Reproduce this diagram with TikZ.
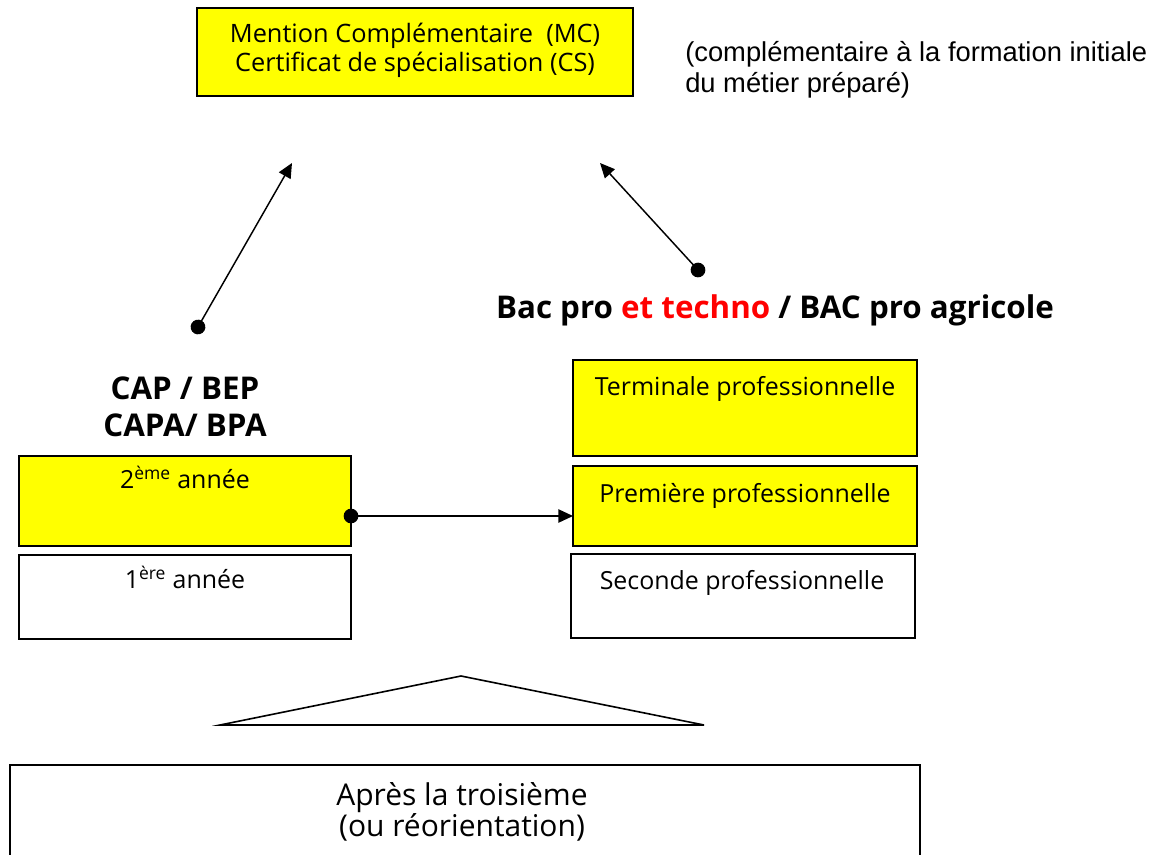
\documentclass[tikz,border=0pt]{standalone}
\usepackage{fontspec}
\setmainfont{Open Sans}
\newfontfamily\arialfont{Liberation Sans}
\usetikzlibrary{arrows.meta,fit,calc}
\definecolor{boxyellow}{RGB}{255,255,0}
\definecolor{redtxt}{RGB}{255,0,0}
\tikzset{
  box/.style={draw=black, line width=1.4pt, inner sep=0pt, rectangle},
  yellowbox/.style={box, fill=boxyellow},
  whitebox/.style={box, fill=white},
  lbl/.style={anchor=base, inner sep=0pt, font=\fontsize{18.7}{21}\selectfont},
  boldlbl/.style={anchor=base, inner sep=0pt, font=\bfseries\fontsize{23.5}{26}\selectfont},
  conn/.style={line width=1.1pt, shorten <=-5.5pt, {Circle[length=11pt]}-{Triangle[length=11pt,width=10pt]}},
}
\begin{document}
\begin{tikzpicture}[x=0.75pt,y=-0.75pt]
\useasboundingbox (0,0) rectangle (1162,855);
\clip (0,0) rectangle (1162,855);
% top box
\node[yellowbox, fit={(197,8)(633,96)}] (mc) {};
\node[inner sep=0pt, anchor=base, font=\fontsize{19}{22}\selectfont] (mc1) at (415,43) {Mention Complémentaire\ \ (MC)};
\node[inner sep=0pt, anchor=base, font=\fontsize{19}{22}\selectfont] (mc2) at (415,72) {Certificat de spécialisation (CS)};
\node[inner sep=0pt, anchor=base west, font=\arialfont\fontsize{20.5}{23}\selectfont] (note1) at (685,62) {(complémentaire à la formation initiale};
\node[inner sep=0pt, anchor=base west, font=\arialfont\fontsize{20.5}{23}\selectfont] (note2) at (685,93) {du métier préparé)};
% left column
\node[boldlbl] (cap1) at (185,399) {CAP / BEP};
\node[boldlbl] (cap2) at (185,436) {CAPA/ BPA};
\node[yellowbox, fit={(19,456)(351,546)}] (an2) {};
\node[lbl] (an2t) at (185,488) {2\textsuperscript{ème} année};
\node[whitebox, fit={(19,555)(351,639)}] (an1) {};
\node[lbl] (an1t) at (185,588) {1\textsuperscript{ère} année};
% right column
\node[boldlbl] (bac) at (775,319) {Bac pro \textcolor{redtxt}{et techno} / BAC pro agricole};
\node[yellowbox, fit={(573,360)(917,456)}] (term) {};
\node[lbl] (termt) at (745,395) {Terminale professionnelle};
\node[yellowbox, fit={(573,466)(917,546)}] (prem) {};
\node[lbl] (premt) at (745,502) {Première professionnelle};
\node[whitebox, fit={(571,554)(915,638)}] (sec) {};
\node[lbl] (sect) at (742,589) {Seconde professionnelle};
% triangle
\coordinate (apex) at (461,676);
\coordinate (bl) at (220,725);
\coordinate (br) at (704,725);
\draw[line width=1.2pt, line join=miter] (bl) -- (apex) -- (br) -- cycle;
% bottom box
\node[whitebox, fit={(10,765)(920,880)}] (apres) {};
\node[inner sep=0pt, anchor=base, font=\fontsize{22.5}{23}\selectfont] (apres1) at (462,805) {Après la troisième};
\node[inner sep=0pt, anchor=base, font=\fontsize{22.5}{23}\selectfont] (apres2) at (462,836) {(ou réorientation)};
% connectors
\coordinate (d1) at (198,327);
\coordinate (t1) at (292,163);
\coordinate (d2) at (698,270);
\coordinate (t2) at (600,163);
\coordinate (d3) at (351,516);
\coordinate (t3) at (573,516);
\draw[conn] (d1) -- (t1);
\draw[conn] (d2) -- (t2);
\draw[conn] (d3) -- (t3);
\end{tikzpicture}
\end{document}
